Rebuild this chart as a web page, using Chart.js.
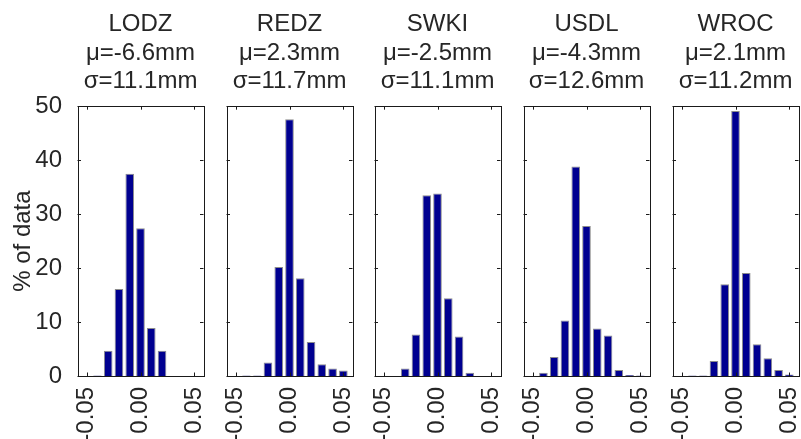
<!DOCTYPE html>
<html>
<head>
<meta charset="utf-8">
<script src="https://cdn.jsdelivr.net/npm/chart.js@4/dist/chart.umd.min.js"></script>
<style>
  html, body { margin: 0; padding: 0; background: #fff; overflow: hidden; width: 801px; height: 439px; }
  body { position: relative; }
  canvas { position: absolute; top: 0; }
</style>
</head>
<body>
<canvas id="p0" width="214" height="439" style="left:0px"></canvas>
<canvas id="p1" width="147" height="439" style="left:216px"></canvas>
<canvas id="p2" width="147" height="439" style="left:364px"></canvas>
<canvas id="p3" width="147" height="439" style="left:513px"></canvas>
<canvas id="p4" width="147" height="439" style="left:662px"></canvas>
<script>
// Histogram bin centres (m) and percentage of data in each bin, per station
const bins = [-0.05, -0.04, -0.03, -0.02, -0.01, 0.00, 0.01, 0.02, 0.03, 0.04, 0.05];
const stations = ['LODZ', 'REDZ', 'SWKI', 'USDL', 'WROC'];
const meanMm = ['-6.6', '2.3', '-2.5', '-4.3', '2.1'];
const sigmaMm = ['11.1', '11.7', '11.1', '12.6', '11.2'];
const lodz = [0, 0.1, 4.7, 16.1, 37.5, 27.4, 8.9, 4.7, 0, 0, 0];
const redz = [0, 0.1, 0.1, 2.5, 20.2, 47.6, 18.1, 6.3, 2.2, 1.4, 1.0];
const swki = [0, 0, 1.4, 7.7, 33.5, 33.8, 14.4, 7.3, 0.6, 0, 0];
const usdl = [0, 0.6, 3.5, 10.3, 38.8, 27.8, 8.8, 7.5, 1.1, 0.2, 0.1];
const wroc = [0, 0.1, 0.1, 2.8, 17.0, 49.1, 19.1, 5.9, 3.3, 1.1, 0.3];
const seriesList = [lodz, redz, swki, usdl, wroc];
const xTicks = [-0.05, 0.00, 0.05];
const yTicks = [0, 10, 20, 30, 40, 50];
const yTitle = '% of data';

const FONT = "'Liberation Sans', Arial, Helvetica, sans-serif";
const TEXT = '#262626';
const AXIS = '#1a1a1a';
const BAR = '#000090';
const BAR_EDGE = '#8c8c8c';

// Box around the plot area with short inward tick marks on all four sides
const frameAndTicks = {
  id: 'frameAndTicks',
  afterDatasetsDraw(chart) {
    const { ctx, chartArea: a, scales: { x, y } } = chart;
    const len = 3.5;
    ctx.save();
    ctx.strokeStyle = AXIS;
    ctx.lineWidth = 1;
    ctx.beginPath();
    xTicks.forEach(v => {
      const px = Math.round(x.getPixelForValue(v)) + 0.5;
      ctx.moveTo(px, a.bottom); ctx.lineTo(px, a.bottom - len);
      ctx.moveTo(px, a.top); ctx.lineTo(px, a.top + len);
    });
    yTicks.forEach(v => {
      const py = Math.round(y.getPixelForValue(v)) + 0.5;
      ctx.moveTo(a.left, py); ctx.lineTo(a.left + len, py);
      ctx.moveTo(a.right, py); ctx.lineTo(a.right - len, py);
    });
    ctx.stroke();
    ctx.strokeRect(Math.round(a.left) + 0.5, Math.round(a.top) + 0.5,
      Math.round(a.right) - Math.round(a.left), Math.round(a.bottom) - Math.round(a.top));
    ctx.restore();
  }
};

function makePanel(i) {
  const first = i === 0;
  const data = bins.map((b, k) => ({ x: b, y: seriesList[i][k] }));
  new Chart(document.getElementById('p' + i), {
    type: 'bar',
    data: {
      datasets: [{
        data,
        backgroundColor: BAR,
        borderColor: BAR_EDGE,
        borderWidth: 1,
        barPercentage: 0.8,
        categoryPercentage: 1.0
      }]
    },
    options: {
      responsive: false,
      animation: false,
      devicePixelRatio: 1,
      layout: { padding: { left: first ? 0 : 10.5, right: 10.5, top: 0, bottom: 0 } },
      plugins: {
        legend: { display: false },
        tooltip: { enabled: false },
        title: {
          display: true,
          fullSize: false,
          text: [stations[i], 'μ=' + meanMm[i] + 'mm', 'σ=' + sigmaMm[i] + 'mm'],
          color: TEXT,
          font: { family: FONT, size: 24, weight: 'normal', lineHeight: 1.19 },
          padding: { top: 10.45, bottom: 10.05 }
        }
      },
      scales: {
        x: {
          type: 'linear',
          min: -0.0585,
          max: 0.0585,
          offset: false,
          grid: { display: false, offset: false },
          border: { display: false },
          afterBuildTicks: s => { s.ticks = xTicks.map(v => ({ value: v })); },
          afterFit: s => { s.height = 63; s.paddingLeft = 0; s.paddingRight = 0; },
          ticks: {
            autoSkip: false,
            minRotation: 90,
            maxRotation: 90,
            padding: 3,
            color: TEXT,
            font: { family: FONT, size: 24 },
            callback: v => Number(v).toFixed(2)
          }
        },
        y: {
          display: first,
          min: 0,
          max: 50,
          grid: { display: false },
          border: { display: false },
          afterBuildTicks: s => { s.ticks = yTicks.map(v => ({ value: v })); },
          afterFit: s => {
            s.width = first ? 77.5 : 0;
            s.paddingTop = 0; s.paddingBottom = 0;
          },
          ticks: {
            padding: 7.5,
            color: TEXT,
            font: { family: FONT, size: 24 }
          },
          title: {
            display: true,
            text: yTitle,
            color: TEXT,
            font: { family: FONT, size: 24, lineHeight: 1.2 },
            padding: { top: 9, bottom: 0 }
          }
        }
      }
    },
    plugins: [frameAndTicks]
  });
}

stations.forEach((_, i) => makePanel(i));
</script>
</body>
</html>
